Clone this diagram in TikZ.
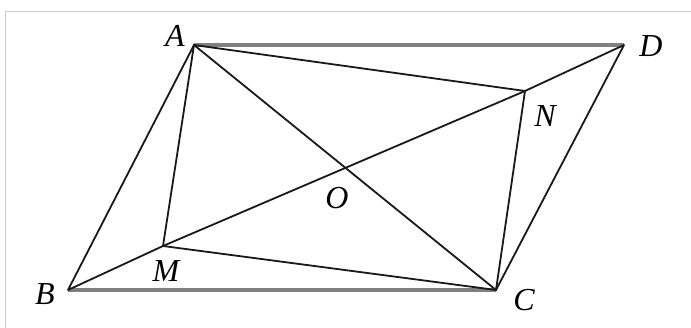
\documentclass[tikz,border=0pt]{standalone}
\usepackage{fontspec}
\setmainfont{Liberation Serif}
\begin{document}
\begin{tikzpicture}[x=1pt,y=-1pt,
  edge/.style={line width=1.8pt,black!90},
  thick edge/.style={line width=4.5pt,black!50},
  lbl/.style={font=\fontsize{32}{34}\selectfont\itshape,inner sep=0pt}]
\useasboundingbox (0,0) rectangle (691,328);
\fill[white] (0,0) rectangle (691,328);
\draw[line width=1.5pt,black!20] (5.5,328) -- (5.5,11.5) -- (691,11.5);
\coordinate (A) at (194,45);
\coordinate (D) at (624,45);
\coordinate (B) at (68,290);
\coordinate (C) at (496,290);
\coordinate (O) at (346,168);
\coordinate (M) at (163,246);
\coordinate (N) at (525,91);
\draw[thick edge] (A) -- (D);
\draw[thick edge] (B) -- (C);
\draw[edge,line join=round] (A) -- (B) -- (M) -- (N) -- (D) -- (C);
\draw[edge] (A) -- (C);
\draw[edge] (A) -- (M) -- (C) -- (N) -- cycle;
\node[lbl] (lA) at (175,36) {A};
\node[lbl] (lD) at (651,46) {D};
\node[lbl] (lB) at (45,294) {B};
\node[lbl] (lC) at (524,300) {C};
\node[lbl] (lO) at (337,198) {O};
\node[lbl] (lM) at (166,271) {M};
\node[lbl] (lN) at (545,116) {N};
\end{tikzpicture}
\end{document}
